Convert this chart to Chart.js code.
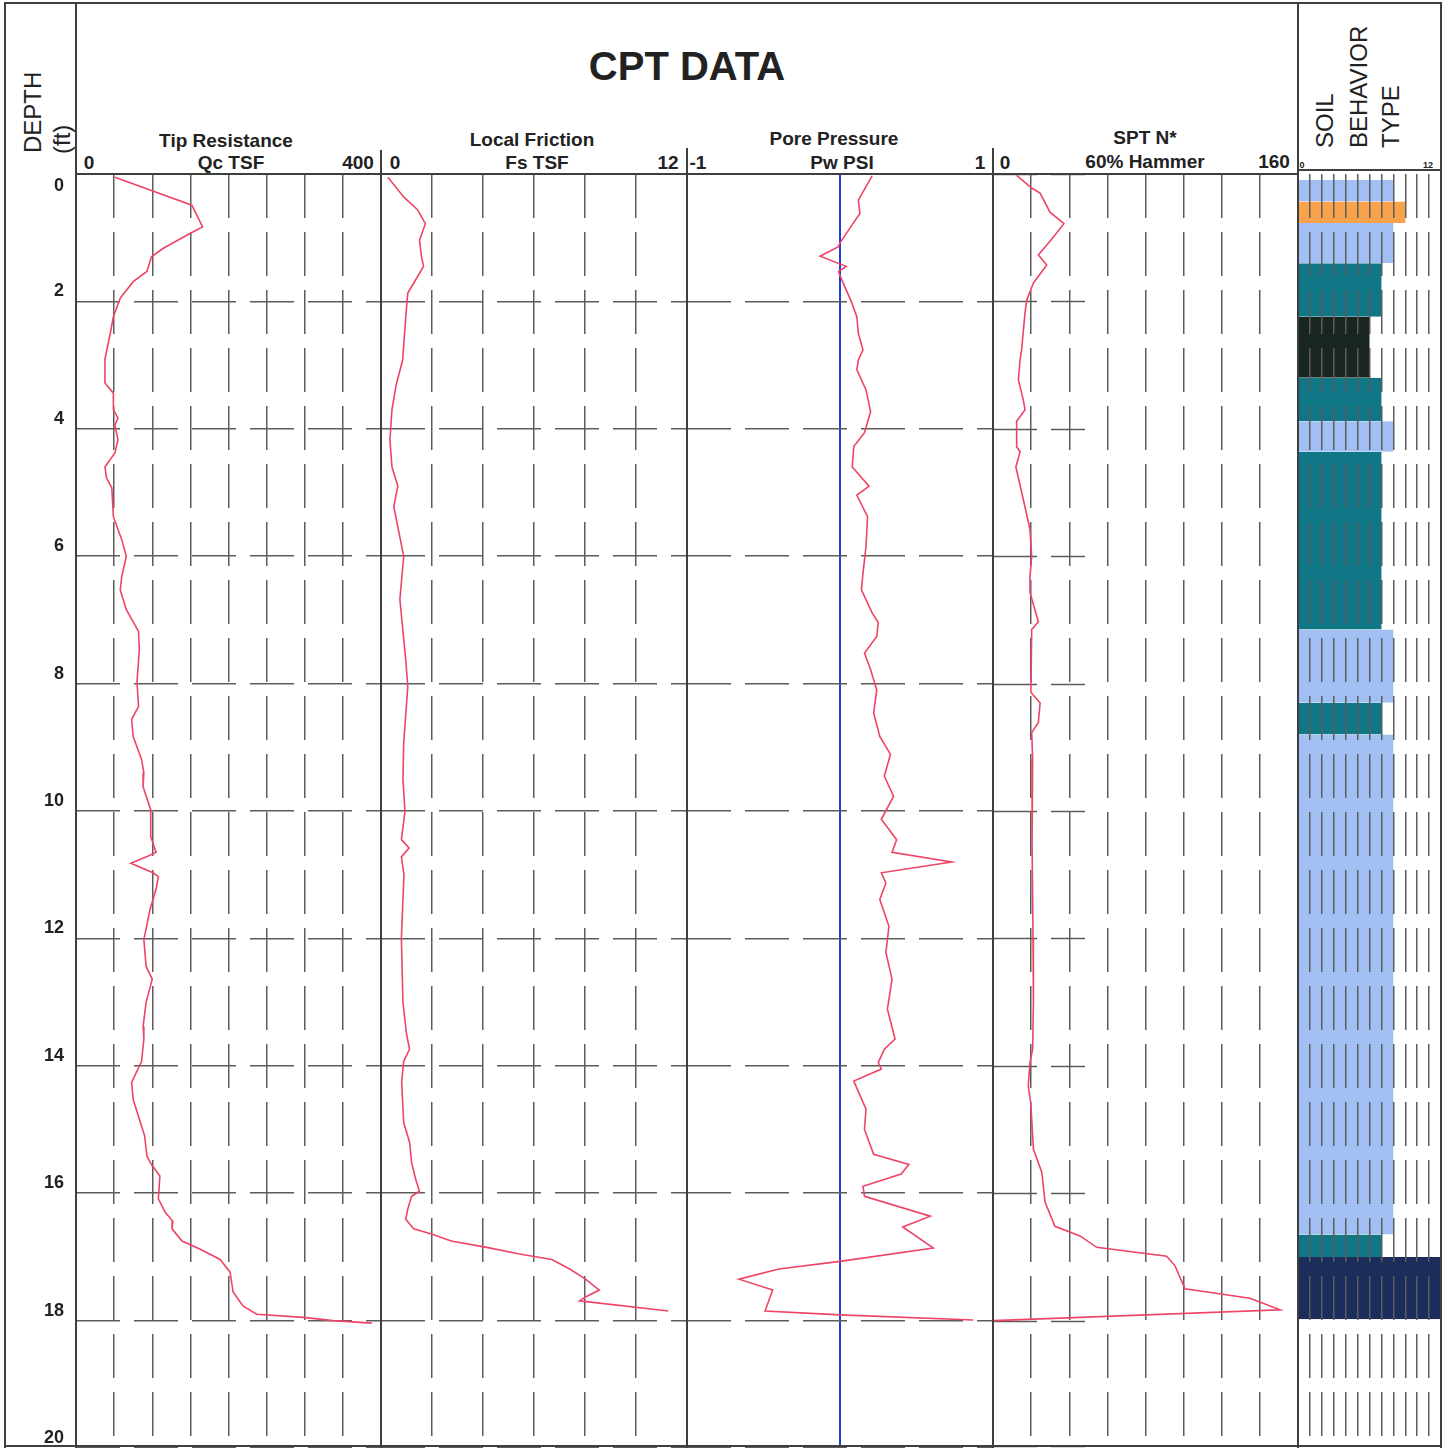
<!DOCTYPE html>
<html>
<head>
<meta charset="utf-8">
<title>CPT DATA</title>
<script src="https://cdn.jsdelivr.net/npm/chart.js@4.4.1/dist/chart.umd.min.js"></script>
<style>
  html, body { margin: 0; padding: 0; background: #fff; }
  #sheet { position: relative; width: 1448px; height: 1448px; overflow: hidden; font-family: "Liberation Sans", Arial, sans-serif; color: #222; }
  .ln { position: absolute; background: #3e3e3e; z-index: 5; }
  .t { position: absolute; white-space: nowrap; transform: translate(-50%, -50%); font-weight: bold; font-size: 19px; line-height: 1; }
  .rot { position: absolute; white-space: nowrap; transform-origin: 0 0; transform: rotate(-90deg); font-size: 24px; line-height: 1; }
  canvas { position: absolute; }
</style>
</head>
<body>
<div id="sheet">
  <canvas id="tipChart" width="376" height="1274" style="left:5px;top:174px;"></canvas>
  <canvas id="fricChart" width="306" height="1274" style="left:381px;top:174px;"></canvas>
  <canvas id="poreChart" width="306" height="1274" style="left:687px;top:174px;"></canvas>
  <canvas id="sptChart" width="305" height="1274" style="left:993px;top:174px;"></canvas>
  <canvas id="sbtChart" width="143" height="1274" style="left:1298px;top:174px;"></canvas>

  <!-- frame -->
  <div class="ln" style="left:4px;top:2px;width:1438px;height:2px;"></div>
  <div class="ln" style="left:4px;top:1445px;width:1438px;height:2px;"></div>
  <div class="ln" style="left:4px;top:2px;width:2px;height:1446px;"></div>
  <div class="ln" style="left:1440px;top:2px;width:2px;height:1446px;"></div>
  <div class="ln" style="left:75px;top:2px;width:2px;height:1446px;"></div>
  <div class="ln" style="left:1297px;top:2px;width:2px;height:1446px;"></div>
  <div class="ln" style="left:76px;top:173px;width:1222px;height:2px;"></div>
  <div class="ln" style="left:1298px;top:169px;width:143px;height:2px;"></div>
  <div class="ln" style="left:380px;top:150px;width:2px;height:1298px;"></div>
  <div class="ln" style="left:686px;top:148px;width:2px;height:1300px;"></div>
  <div class="ln" style="left:992px;top:148px;width:2px;height:1300px;"></div>

  <!-- header text -->
  <div class="t" style="left:687px;top:66px;font-size:40px;">CPT DATA</div>

  <div class="rot" style="left:21px;top:153px;">DEPTH</div>
  <div class="rot" style="left:50px;top:154px;">(ft)</div>

  <div class="t" style="left:226px;top:140px;">Tip Resistance</div>
  <div class="t" style="left:231px;top:162px;">Qc TSF</div>
  <div class="t" style="left:89px;top:162px;">0</div>
  <div class="t" style="left:358px;top:162px;">400</div>

  <div class="t" style="left:532px;top:139px;">Local Friction</div>
  <div class="t" style="left:537px;top:162px;">Fs TSF</div>
  <div class="t" style="left:395px;top:162px;">0</div>
  <div class="t" style="left:668px;top:162px;">12</div>

  <div class="t" style="left:834px;top:138px;">Pore Pressure</div>
  <div class="t" style="left:842px;top:162px;">Pw PSI</div>
  <div class="t" style="left:698px;top:162px;">-1</div>
  <div class="t" style="left:980px;top:162px;">1</div>

  <div class="t" style="left:1145px;top:137px;">SPT N*</div>
  <div class="t" style="left:1145px;top:161px;">60% Hammer</div>
  <div class="t" style="left:1005px;top:162px;">0</div>
  <div class="t" style="left:1274px;top:161px;">160</div>

  <div class="rot" style="left:1313px;top:148px;">SOIL</div>
  <div class="rot" style="left:1347px;top:148px;">BEHAVIOR</div>
  <div class="rot" style="left:1379px;top:148px;">TYPE</div>
  <div class="t" style="left:1302px;top:165px;font-size:9px;">0</div>
  <div class="t" style="left:1428px;top:165px;font-size:9px;">12</div>
</div>

<script>
// Depth axis (ft)
const depthTicks = [0, 2, 4, 6, 8, 10, 12, 14, 16, 18, 20];

// Tip resistance Qc (TSF)
const tipDepth = [0.05, 0.49, 0.83, 0.93, 1.17, 1.3, 1.53, 1.69, 1.95, 2.24, 2.5, 2.9, 3.28, 3.44, 3.7, 3.83, 3.94, 4.17, 4.38, 4.6,
  4.77, 4.93, 5.38, 5.74, 6.0, 6.32, 6.53, 6.84, 7.18, 7.47, 7.98, 8.36, 8.56, 8.83, 9.19, 9.4, 9.62, 9.98, 10.4, 10.65,
  10.71, 10.82, 10.97, 11.03, 11.23, 11.55, 12.02, 12.44, 12.64, 13.0, 13.38, 13.58, 13.93, 14.26, 14.53, 15.1, 15.42, 15.55, 15.73, 16.09,
  16.3, 16.44, 16.56, 16.75, 16.88, 17.04, 17.24, 17.55, 17.77, 17.9, 17.95, 18.0, 18.04];
const tipQc = [51, 152, 166, 150, 114, 99, 93, 75, 58, 49, 45, 38, 38, 49, 49, 55, 51, 55, 51, 38,
  40, 47, 49, 60, 66, 60, 58, 66, 82, 83, 80, 82, 73, 75, 86, 89, 88, 98, 98, 105,
  94, 72, 101, 108, 105, 97, 89, 92, 100, 92, 88, 89, 86, 73, 75, 90, 93, 99, 110, 108,
  117, 127, 126, 139, 163, 189, 202, 206, 219, 237, 298, 337, 388];

// Local friction Fs (TSF)
const fricDepth = [0.05, 0.36, 0.56, 0.78, 1.04, 1.3, 1.45, 1.66, 1.87, 2.2, 2.92, 3.3, 3.7, 4.17, 4.6, 4.9, 5.22, 6.0, 6.68, 7.62,
  8.05, 8.93, 9.5, 10.0, 10.45, 10.58, 10.72, 11.0, 12.0, 13.0, 13.5, 13.74, 13.93, 14.26, 14.89, 15.2, 15.52, 15.78, 15.97, 16.05,
  16.25, 16.41, 16.56, 16.64, 16.75, 16.85, 16.95, 17.04, 17.19, 17.35, 17.52, 17.63, 17.69, 17.85];
const fricFs = [0.27, 0.89, 1.43, 1.74, 1.51, 1.59, 1.67, 1.36, 1.05, 0.98, 0.85, 0.6, 0.43, 0.35, 0.43, 0.66, 0.5, 0.89, 0.74, 0.97,
  1.05, 0.89, 0.86, 0.94, 0.8, 1.1, 0.8, 0.9, 0.8, 0.86, 1.0, 1.12, 0.89, 0.81, 0.89, 1.12, 1.2, 1.36, 1.51, 1.2,
  1.05, 0.97, 1.28, 1.98, 2.75, 4.15, 5.38, 6.7, 7.4, 8.02, 8.56, 8.02, 7.79, 11.27];

// Pore pressure Pw (PSI)
const poreDepth = [0.03, 0.41, 0.62, 0.83, 1.08, 1.14, 1.29, 1.45, 1.53, 1.71, 1.98, 2.24, 2.5, 2.76, 2.92, 3.07, 3.39, 3.73, 4.06, 4.28,
  4.6, 4.9, 5.04, 5.38, 5.85, 6.27, 6.53, 6.89, 7.04, 7.26, 7.52, 7.78, 8.1, 8.46, 8.83, 9.11, 9.45, 9.77, 10.13, 10.45,
  10.65, 10.8, 10.97, 11.13, 11.39, 11.81, 12.22, 12.64, 13.11, 13.58, 13.74, 13.95, 14.05, 14.24, 14.68, 15.0, 15.39, 15.55, 15.7, 15.89,
  16.05, 16.36, 16.53, 16.86, 17.07, 17.19, 17.35, 17.52, 17.85, 17.91, 17.99];
const porePw = [0.21, 0.12, 0.13, 0.07, 0.0, -0.01, -0.13, 0.04, -0.01, 0.02, 0.07, 0.11, 0.12, 0.15, 0.12, 0.11, 0.17, 0.2, 0.16, 0.09,
  0.08, 0.19, 0.11, 0.18, 0.17, 0.15, 0.14, 0.21, 0.25, 0.24, 0.16, 0.2, 0.24, 0.22, 0.26, 0.33, 0.29, 0.35, 0.27, 0.37,
  0.34, 0.73, 0.27, 0.3, 0.26, 0.32, 0.3, 0.34, 0.31, 0.36, 0.29, 0.25, 0.27, 0.09, 0.17, 0.16, 0.22, 0.45, 0.4, 0.15,
  0.16, 0.59, 0.41, 0.61, 0.0, -0.4, -0.66, -0.44, -0.49, 0.0, 0.87];

// SPT N* (60% hammer)
const sptDepth = [0.02, 0.22, 0.3, 0.6, 0.78, 0.99, 1.27, 1.43, 1.71, 1.98, 2.18, 2.76, 2.92, 3.23, 3.55, 3.7, 3.88, 4.28, 4.36, 4.6,
  5.11, 5.58, 6.0, 6.32, 6.57, 7.03, 7.15, 8.14, 8.3, 8.61, 8.77, 9.19, 10.5, 12.0, 13.0, 13.74, 13.95, 14.32, 14.58, 15.31,
  15.67, 16.14, 16.52, 16.67, 16.85, 16.99, 17.14, 17.5, 17.65, 17.83, 18.0];
const sptN = [12.4, 20.3, 24.7, 29.9, 37.2, 31.7, 23.8, 28.2, 21.2, 17.7, 16.8, 15, 14.2, 13.3, 15.9, 16.8, 12.4, 12.4, 14.2, 12,
  15.9, 19.4, 20.3, 19.4, 19.4, 23.8, 20.3, 19.9, 24.7, 23.8, 20.3, 20.8, 20.5, 21, 21.2, 20.8, 19.4, 18.5, 19.8, 21.2,
  25.6, 27.3, 32.5, 45.6, 54.4, 91.1, 95.5, 100.7, 134.8, 150.6, 0.5];

// Soil behavior type layers
const sbtTop = [0.09, 0.43, 0.77, 1.4, 2.24, 3.2, 3.88, 4.36, 7.15, 8.3, 8.8, 16.65, 17.0];
const sbtBottom = [0.43, 0.77, 1.4, 2.24, 3.2, 3.88, 4.36, 7.15, 8.3, 8.8, 16.65, 17.0, 17.98];
const sbtZone = [8, 9, 8, 7, 6, 7, 8, 7, 8, 7, 8, 7, 12];

const zoneColors = { 6: '#18261f', 7: '#107786', 8: '#a2bff3', 9: '#f8a24c', 12: '#1b2d5b' };
const RED = '#ee4466';
const GRID = '#5c5c5c';
const DASH = [44, 14];

function toPoints(depths, values) {
    return depths.map((d, i) => ({ x: values[i], y: d }));
}

function depthScale(showGrid) {
    return {
        type: 'linear', min: 0, max: 20, reverse: true,
        ticks: { display: false, stepSize: 2 },
        grid: { display: showGrid, color: GRID, lineWidth: 1.5, drawTicks: false },
        border: { display: false, dash: DASH }
    };
}

function profileChart(id, depths, values, xMin, xMax, step, extra = {}) {
    const cfg = {
        type: 'line',
        data: {
            datasets: [{
                data: toPoints(depths, values),
                borderColor: RED,
                borderWidth: 1.6,
                pointRadius: 0,
                tension: 0,
                fill: false
            }]
        },
        options: {
            responsive: false,
            animation: false,
            events: [],
            indexAxis: 'y',
            layout: { padding: 0, autoPadding: false },
            plugins: { legend: { display: false }, tooltip: { enabled: false } },
            scales: {
                x: {
                    type: 'linear', min: xMin, max: xMax, position: 'top',
                    ticks: { display: false, stepSize: step },
                    grid: { color: GRID, lineWidth: 1.5, drawTicks: false },
                    border: { display: false, dash: DASH }
                },
                y: depthScale(true)
            }
        },
        plugins: []
    };
    if (extra.tweak) extra.tweak(cfg);
    return new Chart(document.getElementById(id), cfg);
}

// Depth labels in the left column, tied to the tip chart's y scale
const depthLabels = {
    id: 'depthLabels',
    afterDraw(chart) {
        const { ctx, scales: { y } } = chart;
        ctx.save();
        ctx.font = 'bold 18px "Liberation Sans", Arial, sans-serif';
        ctx.fillStyle = '#222';
        ctx.textAlign = 'right';
        ctx.textBaseline = 'middle';
        depthTicks.forEach((d, i) => {
            const py = y.getPixelForValue(d);
            ctx.fillText(String(d), 59, i === 0 ? py + 12 : py - 10);
        });
        ctx.restore();
    }
};

// Short horizontal depth marks in the SPT panel
const sptPartialGrid = {
    id: 'sptPartialGrid',
    beforeDatasetsDraw(chart) {
        const { ctx, chartArea, scales: { y } } = chart;
        ctx.save();
        ctx.strokeStyle = GRID;
        ctx.lineWidth = 1.5;
        ctx.setLineDash(DASH);
        depthTicks.forEach(d => {
            const py = Math.round(y.getPixelForValue(d)) + 0.5;
            ctx.beginPath();
            ctx.moveTo(chartArea.left, py);
            ctx.lineTo(chartArea.left + 92, py);
            ctx.stroke();
        });
        ctx.restore();
    }
};

profileChart('tipChart', tipDepth, tipQc, 0, 400, 50, {
    tweak: cfg => {
        cfg.options.scales.y.display = true;
        cfg.options.scales.y.position = 'left';
        cfg.options.scales.y.afterFit = scale => { scale.width = 71; };
        cfg.plugins.push(depthLabels);
    }
});

profileChart('fricChart', fricDepth, fricFs, 0, 12, 2);

profileChart('poreChart', poreDepth, porePw, -1, 1, 1, {
    tweak: cfg => {
        cfg.options.scales.x.grid.color = c => (c.tick && c.tick.value === 0 ? '#1f3fd6' : 'rgba(0,0,0,0)');
        cfg.options.scales.x.grid.lineWidth = 2;
        cfg.options.scales.x.border.dash = [];
    }
});

profileChart('sptChart', sptDepth, sptN, 0, 160, 20, {
    tweak: cfg => {
        cfg.options.scales.y.grid.display = false;
        cfg.plugins.push(sptPartialGrid);
    }
});

// Soil behavior type: one filled block per layer, filled back to zone 0
new Chart(document.getElementById('sbtChart'), {
    type: 'line',
    data: {
        datasets: sbtZone.map((z, i) => ({
            data: [{ x: z, y: sbtTop[i] }, { x: z, y: sbtBottom[i] }],
            borderWidth: 0,
            borderColor: 'rgba(0,0,0,0)',
            backgroundColor: zoneColors[z],
            pointRadius: 0,
            fill: 'origin'
        }))
    },
    options: {
        responsive: false,
        animation: false,
        events: [],
        indexAxis: 'y',
        layout: { padding: 0, autoPadding: false },
        plugins: { legend: { display: false }, tooltip: { enabled: false } },
        scales: {
            x: {
                type: 'linear', min: 0, max: 12, position: 'top',
                ticks: { display: false, stepSize: 1 },
                grid: { color: GRID, lineWidth: 1.5, drawTicks: false, z: 1 },
                border: { display: false, dash: DASH }
            },
            y: depthScale(false)
        }
    }
});
</script>
</body>
</html>
